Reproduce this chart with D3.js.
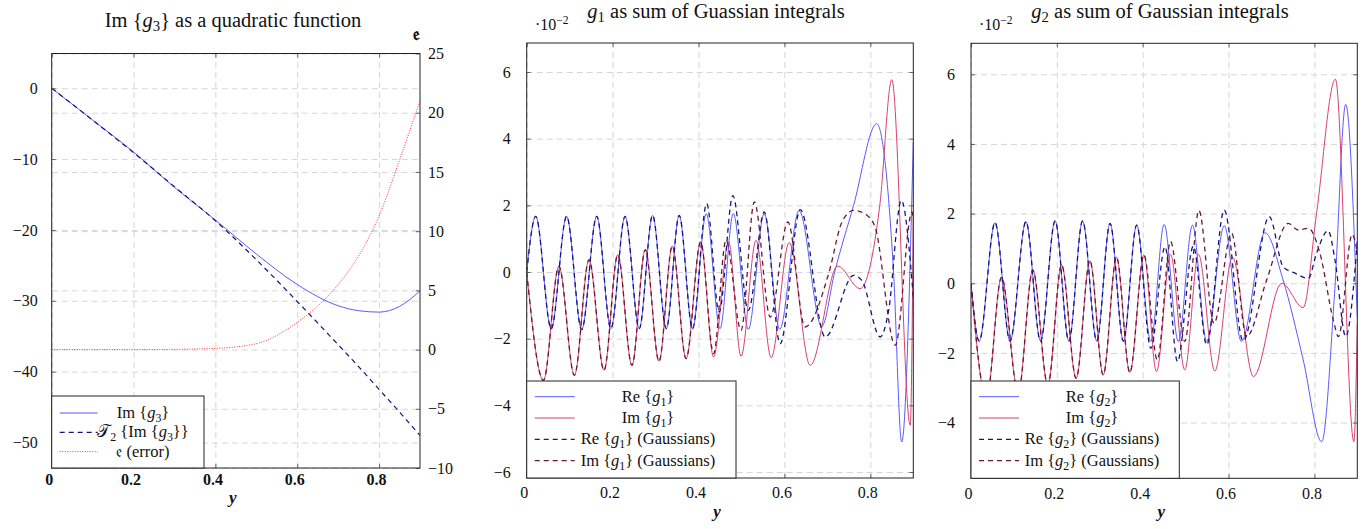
<!DOCTYPE html>
<head>
  <meta charset="utf-8">
  <script src="https://d3js.org/d3.v7.min.js"></script>
  <style>
  body { margin: 0; background: #fff; }
  #chart, #chart text { font-family: "Liberation Serif", "DejaVu Serif", serif; fill: #111; }
  .grid line { stroke: #d6d6d6; stroke-dasharray: 6,4; }
  .grid path, .tk path { display: none; }
  .tk line { stroke: #666; }
  .tk text { font-size: 16px; }
  .curve { fill: none; }
  </style>
</head>

<body>
  <svg id="chart" width="1369" height="529"></svg>
  <script>

    // ---- panel 1: Im{g3} and its quadratic approximation
    var u1 = [0, 0.1, 0.2, 0.3, 0.4, 0.5, 0.6, 0.7, 0.75, 0.8, 0.85, 0.9];
    var imG3 = [0, -4.5, -9.0, -14.0, -18.6, -23.4, -27.7, -30.7, -31.4, -31.6, -30.8, -28.6];
    var taylorG3 = [0, -4.5, -9.1, -13.9, -18.7, -24.2, -30.1, -36.2, -39.3, -42.5, -45.7, -49.0];
    var errG3 = [0, 0, 0, 0.02, 0.1, 0.5, 2.3, 5.5, 7.9, 11.3, 16.0, 21.0];

    // ---- panel 2: g1 (values in units of 1e-2)
    var g1ReU = [0, 0.021, 0.057, 0.093, 0.128, 0.163, 0.196, 0.229, 0.262, 0.293, 0.325, 0.355, 0.386,
                 0.418, 0.450, 0.481, 0.516, 0.553, 0.589, 0.634, 0.687, 0.717, 0.761, 0.815, 0.831, 0.854, 0.873, 0.9];
    var g1Re = [0, 1.67, -1.70, 1.67, -1.73, 1.67, -1.70, 1.67, -1.70, 1.70, -1.70, 1.70, -1.70,
                1.75, -1.70, 1.75, -1.72, 1.75, -1.72, 1.84, -1.63, 0, 2.0, 4.45, 3.65, 0, -5.10, 3.9];
    var g1ImU = [0, 0.039, 0.075, 0.111, 0.145, 0.180, 0.212, 0.245, 0.276, 0.308, 0.339, 0.371, 0.405,
                 0.435, 0.470, 0.499, 0.534, 0.569, 0.611, 0.660, 0.724, 0.776, 0.822, 0.850, 0.893, 0.9];
    var g1Im = [0, -3.25, 0.17, -3.10, 0.37, -2.95, 0.52, -2.80, 0.67, -2.68, 0.78, -2.60, 0.90,
                -2.55, 0.90, -2.53, 0.95, -2.57, 0.88, -2.80, 0.18, -0.50, 2.0, 5.77, -4.60, 1.75];
    var g1ReGU = g1ReU.slice(0, 13).concat([0.419, 0.448, 0.480, 0.516, 0.553, 0.590, 0.637, 0.695, 0.761, 0.780, 0.823, 0.842, 0.872, 0.9]);
    var g1ReG = g1Re.slice(0, 13).concat([2.05, -1.20, 2.29, -1.15, 1.80, -2.15, 1.87, -1.95, -0.10, -0.25, -1.95, -1.2, 2.15, -0.75]);
    var g1ImGU = g1ImU.slice(0, 13).concat([0.435, 0.464, 0.499, 0.530, 0.567, 0.608, 0.648, 0.703, 0.734, 0.761, 0.792, 0.811, 0.858, 0.897, 0.9]);
    var g1ImG = g1Im.slice(0, 13).concat([-2.45, 0.95, -1.75, 2.10, -1.35, 1.50, -1.65, -0.05, 1.5, 1.85, 1.7, 1.35, -2.2, 1.8, 1.6]);

    // ---- panel 3: g2 (values in units of 1e-2)
    var g2ReU = [0, 0.019, 0.056, 0.091, 0.128, 0.162, 0.196, 0.228, 0.260, 0.293, 0.324, 0.355, 0.386,
                 0.419, 0.450, 0.483, 0.516, 0.549, 0.590, 0.630, 0.685, 0.727, 0.774, 0.817, 0.847, 0.873, 0.9];
    var g2Re = [0, -1.66, 1.74, -1.66, 1.77, -1.66, 1.79, -1.66, 1.79, -1.66, 1.72, -1.66, 1.67,
                -1.67, 1.69, -1.67, 1.67, -1.67, 1.65, -1.67, 1.45, 0.1, -2.2, -4.55, -0.3, 5.14, -1.0];
    var g2ImU = [0, 0.036, 0.071, 0.110, 0.144, 0.179, 0.211, 0.245, 0.277, 0.308, 0.339, 0.370, 0.403,
                 0.432, 0.465, 0.498, 0.530, 0.568, 0.609, 0.658, 0.724, 0.774, 0.805, 0.849, 0.892, 0.9];
    var g2Im = [0, -3.30, 0.17, -3.14, 0.38, -2.92, 0.53, -2.73, 0.65, -2.63, 0.75, -2.56, 0.81,
                -2.54, 0.83, -2.49, 0.83, -2.52, 0.75, -2.68, 0.0, -0.70, 2.0, 5.86, -4.55, -1.15];
    var g2ReGU = g2ReU.slice(0, 13).concat([0.419, 0.452, 0.481, 0.518, 0.549, 0.590, 0.634, 0.695, 0.727, 0.755, 0.786, 0.805, 0.832, 0.848, 0.873, 0.9]);
    var g2ReG = g2Re.slice(0, 13).concat([-1.87, 1.05, -2.25, 1.07, -1.77, 2.10, -1.66, 1.91, 0.48, 0.29, 0.14, 0.86, 1.51, 0.67, -1.53, 1.2]);
    var g2ImGU = g2ImU.slice(0, 13).concat([0.434, 0.465, 0.498, 0.531, 0.566, 0.607, 0.642, 0.689, 0.739, 0.762, 0.786, 0.813, 0.844, 0.856, 0.888, 0.9]);
    var g2ImG = g2Im.slice(0, 13).concat([-2.2, 1.2, -1.67, 2.09, -1.15, 1.44, -1.53, 0.1, 1.72, 1.53, 1.58, 0.86, -1.05, -1.53, 1.4, 0.9]);

    var xTicks = [0, 0.2, 0.4, 0.6, 0.8];

    var blue = '#5a5aff', crimson = '#d8406e', navy = '#16167a', maroon = '#6a1838', red = '#ff3030';

    var svg = d3.select('#chart');
    svg.append('rect').attr('width', 1369).attr('height', 529).attr('fill', '#fff');

    // text with italic / sub / sup pieces
    function rich(t, parts, k) {
      var shift = 0;
      parts.forEach(function(p) {
        var s = t.append('tspan').text(p[0]);
        var target = p[1] === 'sub' ? 4 * k : (p[1] === 'sup' ? -6 * k : 0);
        if (target !== shift) s.attr('dy', target - shift);
        shift = target;
        if (p[1] === 'i') s.style('font-style', 'italic');
        if (p[1] === 'sub' || p[1] === 'sup') s.style('font-size', '72%');
      });
      return t;
    }

    function panel(cfg) {
      var g = svg.append('g');
      var w = cfg.x1 - cfg.x0, h = cfg.y1 - cfg.y0;
      var x = d3.scaleLinear().domain([0, 0.9]).range([cfg.x0, cfg.x1]);
      var y = d3.scaleLinear().domain(cfg.yDom).range([cfg.y1, cfg.y0]);

      g.append('g').attr('class', 'grid').attr('transform', 'translate(0,' + cfg.y1 + ')')
        .call(d3.axisBottom(x).tickValues(xTicks).tickSize(-h).tickFormat(''));
      g.append('g').attr('class', 'grid').attr('transform', 'translate(' + cfg.x0 + ',0)')
        .call(d3.axisLeft(y).tickValues(cfg.yTicks).tickSize(-w).tickFormat(''));

      var yR = null;
      if (cfg.yRDom) {
        yR = d3.scaleLinear().domain(cfg.yRDom).range([cfg.y1, cfg.y0]);
        g.append('g').attr('class', 'grid').attr('transform', 'translate(' + cfg.x0 + ',0)')
          .call(d3.axisLeft(yR).tickValues(cfg.yRTicks).tickSize(-w).tickFormat(''));
      }

      var clipId = 'clip' + cfg.id;
      svg.append('clipPath').attr('id', clipId).append('rect')
        .attr('x', cfg.x0).attr('y', cfg.y0).attr('width', w).attr('height', h);
      var plot = g.append('g').attr('clip-path', 'url(#' + clipId + ')');

      cfg.series.forEach(function(s) {
        var sy = s.right ? yR : y;
        var line = d3.line()
          .x(function(d) { return x(d[0]); })
          .y(function(d) { return sy(d[1]); })
          .curve(d3.curveMonotoneX);
        plot.append('path').attr('class', 'curve')
          .attr('d', line(d3.zip(s.u, s.v)))
          .attr('stroke', s.color)
          .attr('stroke-width', s.width)
          .attr('stroke-dasharray', s.dash || null);
      });

      // ticks and labels
      var xf = function(d) { return d === 0 ? '0' : d3.format('.1f')(d); };
      var bx = g.append('g').attr('class', 'tk').attr('transform', 'translate(0,' + cfg.y1 + ')')
        .call(d3.axisBottom(x).tickValues(xTicks).tickSize(-4).tickPadding(cfg.xPad).tickFormat(xf));
      bx.selectAll('text').attr('dx', -3);
      if (cfg.boldX) bx.selectAll('text').style('font-weight', 'bold');
      g.append('g').attr('class', 'tk').attr('transform', 'translate(0,' + cfg.y0 + ')')
        .call(d3.axisTop(x).tickValues(xTicks).tickSize(-4).tickFormat(''));
      g.append('g').attr('class', 'tk').attr('transform', 'translate(' + cfg.x0 + ',0)')
        .call(d3.axisLeft(y).tickValues(cfg.yTicks).tickSize(-4).tickPadding(cfg.yPad).tickFormat(d3.format('d')));
      if (yR) {
        g.append('g').attr('class', 'tk').attr('transform', 'translate(' + cfg.x1 + ',0)')
          .call(d3.axisRight(yR).tickValues(cfg.yRTicks).tickSize(-4).tickPadding(8).tickFormat(d3.format('d')));
      } else {
        g.append('g').attr('class', 'tk').attr('transform', 'translate(' + cfg.x1 + ',0)')
          .call(d3.axisRight(y).tickValues(cfg.yTicks).tickSize(-4).tickFormat(''));
      }

      g.append('rect').attr('x', cfg.x0).attr('y', cfg.y0).attr('width', w).attr('height', h)
        .attr('fill', 'none').attr('stroke', '#222').attr('stroke-width', 1);

      // legend
      var L = cfg.legend;
      var lg = g.append('g');
      lg.append('rect').attr('x', L.x).attr('y', L.y).attr('width', L.w).attr('height', L.h)
        .attr('fill', '#fff').attr('stroke', '#222').attr('stroke-width', 1);
      cfg.series.forEach(function(s, i) {
        var ly = L.y + L.top + i * L.step;
        lg.append('line').attr('x1', L.x + 8).attr('x2', L.x + 8 + L.len)
          .attr('y1', ly).attr('y2', ly)
          .attr('stroke', s.color).attr('stroke-width', s.width)
          .attr('stroke-dasharray', s.dash || null);
        rich(lg.append('text').attr('x', L.cx).attr('y', ly + 5)
          .attr('text-anchor', 'middle').style('font-size', '16.5px'), s.label, 1);
      });

      // x label
      g.append('text').attr('x', (cfg.x0 + cfg.x1) / 2 - 3).attr('y', cfg.xLabY)
        .attr('text-anchor', 'middle').style('font-size', '17px')
        .style('font-style', 'italic').style('font-weight', 'bold').text('y');
      return g;
    }

    panel({
      id: 1, x0: 51.7, x1: 420, y0: 53.5, y1: 468,
      yDom: [-53.6, 4.9], yTicks: [-50, -40, -30, -20, -10, 0],
      yRDom: [-10, 25], yRTicks: [-10, -5, 0, 5, 10, 15, 20, 25],
      xPad: 6, yPad: 14, boldX: true, xLabY: 503,
      series: [
        { u: u1, v: imG3, color: blue, width: 1, label: [['Im {', ''], ['g', 'i'], ['3', 'sub'], ['}', '']] },
        { u: u1, v: taylorG3, color: navy, width: 1.2, dash: '5,4',
          label: [['𝒯', ''], ['2', 'sub'], [' {Im {', ''], ['g', 'i'], ['3', 'sub'], ['}}', '']] },
        { u: u1, v: errG3, color: red, width: 1, dash: '1,1.5', right: true, label: [['𝔢 (error)', '']] }
      ],
      legend: { x: 51.7, y: 396, w: 152.3, h: 72, top: 17, step: 19.3, len: 38, cx: 143 }
    });

    panel({
      id: 2, x0: 526.7, x1: 913.3, y0: 43, y1: 478,
      yDom: [-6.18, 6.87], yTicks: [-6, -4, -2, 0, 2, 4, 6],
      xPad: 9, yPad: 16, xLabY: 517,
      series: [
        { u: g1ReU, v: g1Re, color: blue, width: 1, label: [['Re {', ''], ['g', 'i'], ['1', 'sub'], ['}', '']] },
        { u: g1ImU, v: g1Im, color: crimson, width: 1, label: [['Im {', ''], ['g', 'i'], ['1', 'sub'], ['}', '']] },
        { u: g1ReGU, v: g1ReG, color: navy, width: 1.3, dash: '5,4',
          label: [['Re {', ''], ['g', 'i'], ['1', 'sub'], ['} (Gaussians)', '']] },
        { u: g1ImGU, v: g1ImG, color: maroon, width: 1.3, dash: '5,4',
          label: [['Im {', ''], ['g', 'i'], ['1', 'sub'], ['} (Gaussians)', '']] }
      ],
      legend: { x: 526.7, y: 381, w: 209.3, h: 97, top: 15.7, step: 21.3, len: 40, cx: 648 }
    });

    panel({
      id: 3, x0: 971, x1: 1357.3, y0: 43.3, y1: 478.3,
      yDom: [-5.6, 6.89], yTicks: [-4, -2, 0, 2, 4, 6],
      xPad: 9, yPad: 16, xLabY: 517,
      series: [
        { u: g2ReU, v: g2Re, color: blue, width: 1, label: [['Re {', ''], ['g', 'i'], ['2', 'sub'], ['}', '']] },
        { u: g2ImU, v: g2Im, color: crimson, width: 1, label: [['Im {', ''], ['g', 'i'], ['2', 'sub'], ['}', '']] },
        { u: g2ReGU, v: g2ReG, color: navy, width: 1.3, dash: '5,4',
          label: [['Re {', ''], ['g', 'i'], ['2', 'sub'], ['} (Gaussians)', '']] },
        { u: g2ImGU, v: g2ImG, color: maroon, width: 1.3, dash: '5,4',
          label: [['Im {', ''], ['g', 'i'], ['2', 'sub'], ['} (Gaussians)', '']] }
      ],
      legend: { x: 971, y: 381, w: 208.3, h: 97.3, top: 15.7, step: 21.3, len: 40, cx: 1092 }
    });

    // titles
    rich(svg.append('text').attr('x', 233).attr('y', 27).attr('text-anchor', 'middle').style('font-size', '20.5px'),
      [['Im {', ''], ['g', 'i'], ['3', 'sub'], ['} as a quadratic function', '']], 1.1);
    svg.append('text').attr('x', 416).attr('y', 40).attr('text-anchor', 'middle')
      .style('font-size', '18px').style('font-weight', 'bold').text('𝔢');

    rich(svg.append('text').attr('x', 535).attr('y', 30).style('font-size', '16px'), [['·10', ''], ['−2', 'sup']], 1);
    rich(svg.append('text').attr('x', 716).attr('y', 18).attr('text-anchor', 'middle').style('font-size', '20.5px'),
      [['g', 'i'], ['1', 'sub'], [' as sum of Guassian integrals', '']], 1.1);

    rich(svg.append('text').attr('x', 979).attr('y', 30).style('font-size', '16px'), [['·10', ''], ['−2', 'sup']], 1);
    rich(svg.append('text').attr('x', 1160).attr('y', 18).attr('text-anchor', 'middle').style('font-size', '20.5px'),
      [['g', 'i'], ['2', 'sub'], [' as sum of Gaussian integrals', '']], 1.1);

  </script>
</body>
